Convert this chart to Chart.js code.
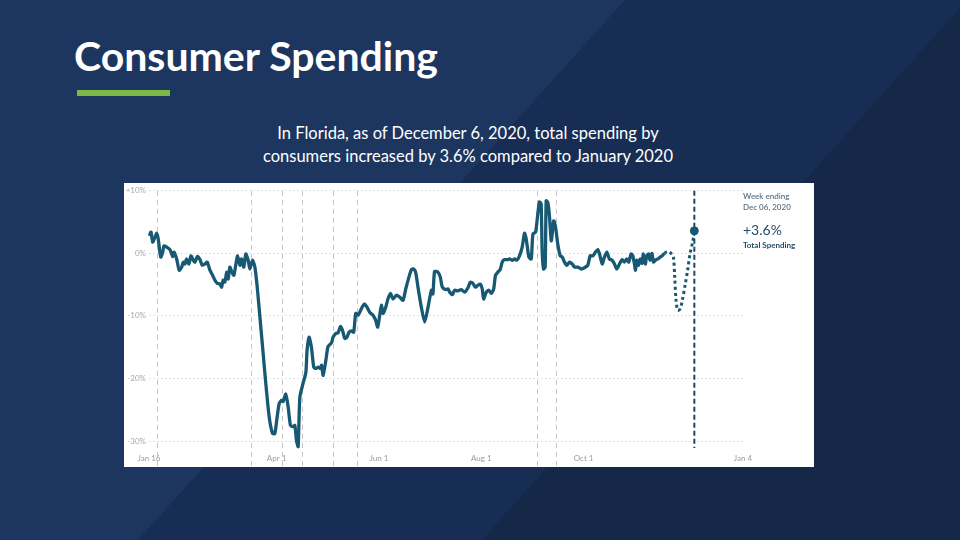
<!DOCTYPE html>
<html>
<head>
<meta charset="utf-8">
<script src="https://cdn.jsdelivr.net/npm/chart.js@4.4.1/dist/chart.umd.min.js"></script>
<style>
  html, body { margin:0; padding:0; }
  body { width:960px; height:540px; overflow:hidden; position:relative; background:#182d54; font-family: Lato, "Open Sans", sans-serif; }
  .bg { position:absolute; left:0; top:0; width:960px; height:540px; }
  .bgL { background:#1c365f; clip-path: polygon(0 0, 625px 0, 138px 540px, 0 540px); }
  .bgR { background:#152848; clip-path: polygon(960px 8px, 960px 540px, 482px 540px); }
  #title { position:absolute; left:74px; top:36px; color:#fff; font-family: Lato, sans-serif; font-weight:700; font-size:41px; line-height:40px; white-space:nowrap; }
  #bar { position:absolute; left:77px; top:90px; width:93px; height:6px; background:#7cb944; }
  #sub { position:absolute; left:168px; top:122px; width:600px; text-align:center; color:#fff; font-family: Lato, sans-serif; font-size:16.5px; line-height:23px; }
  #box { position:absolute; left:124px; top:183px; width:690px; height:284px; background:#fff; }
  #c { position:absolute; left:0; top:0; }
</style>
</head>
<body>
<div class="bg bgL"></div>
<div class="bg bgR"></div>
<div id="title">Consumer Spending</div>
<div id="bar"></div>
<div id="sub">In Florida, as of December 6, 2020, total spending by<br>consumers increased by 3.6% compared to January 2020</div>
<div id="box"><canvas id="c" width="690" height="284"></canvas></div>
<script>
// x values are days since Jan 16, 2020; y values are % change vs January 2020
const tickDays = [0, 76, 137, 198, 259, 354];
const tickLabels = ["Jan 16", "Apr 1", "Jun 1", "Aug 1", "Oct 1", "Jan 4"];
const yTicks = [10, 0, -10, -20, -30];

const solidDays = [0.2,1.2,2.2,3.6,4.6,5.5,7.0,8.2,8.9,10.5,12.5,14.1,14.9,16.5,18.0,19.5,20.4,21.4,22.4,23.8,25.0,26.4,27.4,28.8,30.4,31.7,33.3,34.7,36.3,37.9,39.3,40.7,42.3,43.3,44.2,45.2,46.3,47.2,48.2,49.4,50.6,51.8,52.8,54.2,55.2,56.5,57.7,59.1,60.1,
61.7,63.1,64.5,66.1,67.7,69.6,71.6,73.6,75.0,76.4,77.6,79.0,79.9,81.5,82.9,84.3,85.9,86.9,87.9,88.9,89.9,91.8,93.5,94.2,95.4,96.8,98.2,99.4,100.8,102.2,102.8,103.8,105.4,106.7,108.8,109.7,111.3,112.7,114.1,115.3,116.7,118.0,119.2,120.7,122.0,123.2,124.6,125.6,127.2,128.6,129.9,
131.5,133.5,135.1,136.3,137.5,138.5,139.5,141.1,142.4,143.9,145.4,147.4,149.4,151.4,153.0,154.9,156.4,157.7,158.9,160.3,162.3,164.3,166.3,168.3,169.2,170.2,172.2,173.6,174.8,176.8,178.2,179.2,180.8,182.1,184.1,186.1,188.1,190.1,191.5,193.0,194.6,196.0,197.4,198.6,199.4,201.0,202.6,204.0,205.4,206.5,207.9,209.3,210.5,211.9,213.9,
214.9,216.5,217.9,219.2,220.8,222.4,223.8,224.8,226.4,227.8,228.8,230.4,231.7,232.7,233.7,234.3,235.1,236.1,236.7,237.7,238.7,239.7,240.3,241.2,242.3,243.6,245.1,246.3,247.6,249.0,250.6,252.2,253.6,255.5,257.6,259.5,261.5,262.9,264.5,266.1,267.4,
268.5,270.1,271.4,272.8,274.4,276.0,277.4,278.8,280.4,282.0,283.3,284.7,285.9,287.3,288.3,289.3,289.9,290.7,291.8,292.7,293.9,294.6,295.8,296.6,297.8,298.6,299.8,300.6,301.8,303.2,304.6,305.8,307.1];
const solidVals = [2.8,3.4,1.8,2.6,3.2,2.3,-0.6,0.2,1.2,1.0,0.6,-0.5,0.2,-0.9,-2.7,-2.2,-1.4,-1.7,-0.9,-1.7,-0.4,-1.1,-1.4,-0.5,-1.0,-1.9,-1.7,-1.4,-2.7,-3.5,-4.3,-4.8,-4.9,-5.4,-4.3,-4.6,-3.0,-4.1,-2.2,-3.0,-3.5,-1.7,-0.4,-1.9,-0.9,-2.2,-0.1,-1.1,-2.5,
-1.1,-2.2,-5.4,-10.2,-15.0,-20.8,-26.1,-28.8,-28.8,-26.1,-24.0,-23.5,-23.7,-22.5,-24.5,-27.5,-27.7,-27.5,-29.9,-30.9,-23.0,-20.8,-19.0,-15.5,-13.4,-15.0,-18.2,-18.4,-18.2,-18.4,-17.9,-19.5,-17.1,-14.9,-14.3,-13.4,-12.8,-12.7,-11.7,-12.3,-13.6,-13.4,-12.6,-12.4,-12.6,-9.6,-9.9,-9.4,-8.5,-8.1,-8.6,
-9.4,-9.9,-10.7,-11.8,-9.9,-8.3,-9.6,-8.6,-7.3,-6.4,-7.3,-6.7,-7.0,-7.5,-5.7,-3.8,-2.6,-2.5,-3.0,-5.4,-8.6,-11.0,-8.6,-5.9,-6.5,-2.9,-3.0,-3.8,-5.4,-5.8,-5.7,-6.2,-6.6,-5.9,-6.0,-5.8,-6.2,-5.5,-4.6,-4.8,-5.4,-5.1,-4.9,-5.7,-7.3,-6.2,-5.9,-6.4,-5.7,-3.5,-3.0,-2.6,-1.4,-1.0,-1.0,
-0.9,-1.1,-0.9,-1.1,-0.4,1.0,3.2,2.3,-0.6,-0.9,3.1,3.4,6.3,8.2,7.9,0.4,-2.5,-2.2,8.4,8.1,5.8,2.0,3.1,5.2,4.2,1.5,-0.4,-0.6,-1.4,-1.9,-1.4,-1.7,-2.2,-2.2,-2.5,-2.3,-1.9,-0.4,-0.4,0.2,0.6,
-0.1,-1.7,-0.6,0.2,-0.9,-1.1,-1.7,-2.5,-1.7,-1.0,-1.4,-0.9,-1.4,-0.1,-0.4,-1.7,-2.7,-1.1,-1.9,-0.9,-1.6,-0.1,-1.7,-0.4,-0.1,-1.1,0.0,-1.4,-1.1,-0.9,-0.6,-0.4,0.0];

const provisionalDays = [307.1,309.1,311.1,312.5,313.3,314.1,315.1,316.5,318.0,319.6,321.0,322.4,324.0,325.0];
const provisionalVals = [0.0,0.3,0.0,-0.6,-3.8,-7.5,-9.1,-8.9,-7.3,-4.9,-2.7,-0.1,1.8,3.6];

const currentDay = 325;      // week ending Dec 06, 2020
const currentVal = 3.6;
const eventDays = [4.8, 60.7, 79.2, 91.1, 109.5, 123.8, 231.0, 242.3];

const lineColor = '#175873';
const toPts = (xs, ys) => xs.map((x, i) => ({x: x, y: ys[i]}));

const overlay = {
  id: 'overlay',
  beforeDatasetsDraw(chart) {
    const {ctx, chartArea, scales} = chart;
    ctx.save();
    ctx.lineWidth = 1;
    ctx.strokeStyle = '#c4c4c4';
    ctx.setLineDash([5, 4]);
    eventDays.forEach(d => {
      const x = Math.round(scales.x.getPixelForValue(d)) + 0.5;
      ctx.beginPath();
      ctx.moveTo(x, chartArea.top);
      ctx.lineTo(x, chart.height);
      ctx.stroke();
    });
    const cx = scales.x.getPixelForValue(currentDay);
    ctx.strokeStyle = '#22475e';
    ctx.lineWidth = 2;
    ctx.setLineDash([5, 3]);
    ctx.beginPath();
    ctx.moveTo(cx, chartArea.top);
    ctx.lineTo(cx, chartArea.bottom + 7);
    ctx.stroke();
    ctx.restore();
  },
  afterDraw(chart) {
    const {ctx, chartArea} = chart;
    const x = chartArea.right;
    ctx.save();
    ctx.textAlign = 'left';
    ctx.textBaseline = 'middle';
    ctx.fillStyle = '#5b7284';
    ctx.font = '600 8px Lato, sans-serif';
    ctx.fillText('Week ending', x, 13);
    ctx.fillText('Dec 06, 2020', x, 24);
    ctx.fillStyle = '#1f4e67';
    ctx.font = '14px Lato, sans-serif';
    ctx.fillText('+' + currentVal + '%', x, 47);
    ctx.font = '700 8px Lato, sans-serif';
    ctx.fillText('Total Spending', x, 62);
    ctx.restore();
  }
};

new Chart(document.getElementById('c'), {
  type: 'line',
  data: {
    datasets: [
      { data: toPts(solidDays, solidVals), borderColor: lineColor, borderWidth: 3.3, pointRadius: 0, tension: 0.2, clip: false },
      { data: toPts(provisionalDays, provisionalVals), borderColor: lineColor, borderWidth: 3, borderDash: [3, 3], pointRadius: 0, tension: 0.3, clip: false },
      { data: [{x: currentDay, y: currentVal}], showLine: false, pointRadius: 4, pointBackgroundColor: lineColor, pointBorderColor: lineColor, clip: false }
    ]
  },
  options: {
    responsive: false,
    animation: false,
    layout: { padding: { left: 0, right: 71, top: 7, bottom: 0 } },
    plugins: { legend: { display: false }, tooltip: { enabled: false } },
    scales: {
      x: {
        type: 'linear', min: 0, max: 354,
        afterBuildTicks: s => { s.ticks = tickDays.map(v => ({value: v})); },
        afterFit: s => { s.height = 26; },
        ticks: { callback: (v, i) => tickLabels[i], font: { size: 8, family: 'Lato' }, color: '#9a9a9a', padding: 5, maxRotation: 0, autoSkip: false },
        grid: { display: false },
        border: { display: false }
      },
      y: {
        min: -30, max: 10,
        afterBuildTicks: s => { s.ticks = yTicks.map(v => ({value: v})); },
        afterFit: s => { s.width = 25; },
        ticks: { callback: v => (v > 0 ? '+' : '') + v + '%', font: { size: 8, family: 'Lato' }, color: '#a8a8a8', padding: 3 },
        grid: { color: '#e3e3e3', drawTicks: false, tickLength: 0 },
        border: { display: false, dash: [2, 2] }
      }
    }
  },
  plugins: [overlay]
});
</script>
</body>
</html>
